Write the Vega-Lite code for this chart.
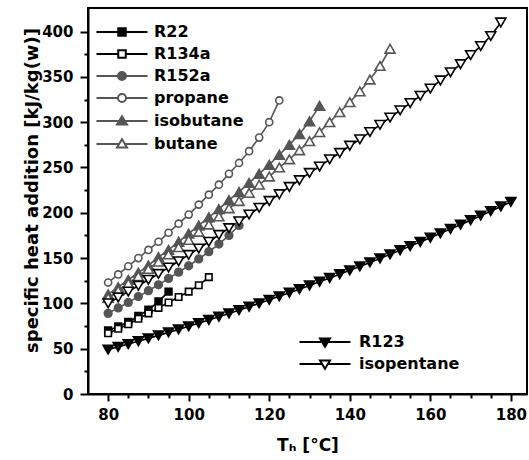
{
  "$schema": "https://vega.github.io/schema/vega-lite/v6.json",
  "width": 439,
  "height": 386,
  "autosize": {"type": "none"},
  "padding": {"left": 88, "top": 8, "right": 2, "bottom": 66},
  "background": "white",
  "config": {
    "view": {"stroke": "black", "strokeWidth": 2},
    "font": "DejaVu Sans",
    "axis": {"grid": false, "domainColor": "black", "domainWidth": 2, "tickColor": "black", "tickWidth": 2,
      "labelFont": "DejaVu Sans", "labelFontWeight": "bold", "labelFontSize": 15, "labelColor": "black",
      "titleFont": "DejaVu Sans", "titleFontWeight": "bold", "titleFontSize": 17, "titleColor": "black"},
    "legend": {"labelFont": "DejaVu Sans", "labelFontWeight": "bold", "labelFontSize": 16, "labelColor": "black"}
  },
  "data": {"values": [
    {"series":"R22","T":80,"q":70},{"series":"R22","T":82.5,"q":74.5},{"series":"R22","T":85,"q":79.5},{"series":"R22","T":87.5,"q":86},{"series":"R22","T":90,"q":93},{"series":"R22","T":92.5,"q":102},{"series":"R22","T":95,"q":113},
    {"series":"R134a","T":80,"q":67},{"series":"R134a","T":82.5,"q":72},{"series":"R134a","T":85,"q":77},{"series":"R134a","T":87.5,"q":83},{"series":"R134a","T":90,"q":89},{"series":"R134a","T":92.5,"q":95},{"series":"R134a","T":95,"q":101},{"series":"R134a","T":97.5,"q":107},{"series":"R134a","T":100,"q":113},{"series":"R134a","T":102.5,"q":120},{"series":"R134a","T":105,"q":129},
    {"series":"R152a","T":80,"q":89},{"series":"R152a","T":82.5,"q":95},{"series":"R152a","T":85,"q":101},{"series":"R152a","T":87.5,"q":107.5},{"series":"R152a","T":90,"q":114},{"series":"R152a","T":92.5,"q":120.5},{"series":"R152a","T":95,"q":127.5},{"series":"R152a","T":97.5,"q":134.5},{"series":"R152a","T":100,"q":141.5},{"series":"R152a","T":102.5,"q":149},{"series":"R152a","T":105,"q":157},{"series":"R152a","T":107.5,"q":165.5},{"series":"R152a","T":110,"q":175},{"series":"R152a","T":112.5,"q":186},
    {"series":"propane","T":80,"q":123},{"series":"propane","T":82.5,"q":132},{"series":"propane","T":85,"q":141},{"series":"propane","T":87.5,"q":150},{"series":"propane","T":90,"q":159},{"series":"propane","T":92.5,"q":168},{"series":"propane","T":95,"q":178},{"series":"propane","T":97.5,"q":188},{"series":"propane","T":100,"q":198},{"series":"propane","T":102.5,"q":209},{"series":"propane","T":105,"q":220},{"series":"propane","T":107.5,"q":231},{"series":"propane","T":110,"q":243},{"series":"propane","T":112.5,"q":255},{"series":"propane","T":115,"q":268},{"series":"propane","T":117.5,"q":283},{"series":"propane","T":120,"q":300},{"series":"propane","T":122.5,"q":324},
    {"series":"isobutane","T":80,"q":110},{"series":"isobutane","T":82.5,"q":118},{"series":"isobutane","T":85,"q":126},{"series":"isobutane","T":87.5,"q":134},{"series":"isobutane","T":90,"q":142},{"series":"isobutane","T":92.5,"q":151},{"series":"isobutane","T":95,"q":159},{"series":"isobutane","T":97.5,"q":168},{"series":"isobutane","T":100,"q":177},{"series":"isobutane","T":102.5,"q":186},{"series":"isobutane","T":105,"q":195},{"series":"isobutane","T":107.5,"q":204},{"series":"isobutane","T":110,"q":214},{"series":"isobutane","T":112.5,"q":223},{"series":"isobutane","T":115,"q":233},{"series":"isobutane","T":117.5,"q":243},{"series":"isobutane","T":120,"q":253},{"series":"isobutane","T":122.5,"q":264},{"series":"isobutane","T":125,"q":275},{"series":"isobutane","T":127.5,"q":287},{"series":"isobutane","T":130,"q":301},{"series":"isobutane","T":132.5,"q":318},
    {"series":"butane","T":80,"q":106},{"series":"butane","T":82.5,"q":114},{"series":"butane","T":85,"q":122},{"series":"butane","T":87.5,"q":130},{"series":"butane","T":90,"q":138},{"series":"butane","T":92.5,"q":146},{"series":"butane","T":95,"q":154},{"series":"butane","T":97.5,"q":162},{"series":"butane","T":100,"q":170},{"series":"butane","T":102.5,"q":179},{"series":"butane","T":105,"q":187},{"series":"butane","T":107.5,"q":196},{"series":"butane","T":110,"q":205},{"series":"butane","T":112.5,"q":213},{"series":"butane","T":115,"q":222},{"series":"butane","T":117.5,"q":231},{"series":"butane","T":120,"q":240},{"series":"butane","T":122.5,"q":250},{"series":"butane","T":125,"q":259},{"series":"butane","T":127.5,"q":269},{"series":"butane","T":130,"q":279},{"series":"butane","T":132.5,"q":289},{"series":"butane","T":135,"q":300},{"series":"butane","T":137.5,"q":311},{"series":"butane","T":140,"q":322},{"series":"butane","T":142.5,"q":334},{"series":"butane","T":145,"q":347},{"series":"butane","T":147.5,"q":362},{"series":"butane","T":150,"q":381},
    {"series":"R123","T":80,"q":49},{"series":"R123","T":82.5,"q":52},{"series":"R123","T":85,"q":55.1},{"series":"R123","T":87.5,"q":58.2},{"series":"R123","T":90,"q":61.4},{"series":"R123","T":92.5,"q":64.7},{"series":"R123","T":95,"q":68},{"series":"R123","T":97.5,"q":71.3},{"series":"R123","T":100,"q":74.7},{"series":"R123","T":102.5,"q":78.2},{"series":"R123","T":105,"q":81.7},{"series":"R123","T":107.5,"q":85.3},{"series":"R123","T":110,"q":88.9},{"series":"R123","T":112.5,"q":92.5},{"series":"R123","T":115,"q":96.3},{"series":"R123","T":117.5,"q":100},{"series":"R123","T":120,"q":103.9},{"series":"R123","T":122.5,"q":107.8},{"series":"R123","T":125,"q":111.7},{"series":"R123","T":127.5,"q":115.7},{"series":"R123","T":130,"q":119.8},{"series":"R123","T":132.5,"q":123.9},{"series":"R123","T":135,"q":128},{"series":"R123","T":137.5,"q":132.2},{"series":"R123","T":140,"q":136.5},{"series":"R123","T":142.5,"q":140.8},{"series":"R123","T":145,"q":145.2},{"series":"R123","T":147.5,"q":149.6},{"series":"R123","T":150,"q":154.1},{"series":"R123","T":152.5,"q":158.6},{"series":"R123","T":155,"q":163.2},{"series":"R123","T":157.5,"q":167.8},{"series":"R123","T":160,"q":172.5},{"series":"R123","T":162.5,"q":177.3},{"series":"R123","T":165,"q":182.1},{"series":"R123","T":167.5,"q":186.9},{"series":"R123","T":170,"q":191.8},{"series":"R123","T":172.5,"q":196.8},{"series":"R123","T":175,"q":201.8},{"series":"R123","T":177.5,"q":206.9},{"series":"R123","T":180,"q":212},
    {"series":"isopentane","T":80,"q":100},{"series":"isopentane","T":82.5,"q":106.5},{"series":"isopentane","T":85,"q":113},{"series":"isopentane","T":87.5,"q":119.5},{"series":"isopentane","T":90,"q":126},{"series":"isopentane","T":92.5,"q":132.5},{"series":"isopentane","T":95,"q":139.5},{"series":"isopentane","T":97.5,"q":146.5},{"series":"isopentane","T":100,"q":153.5},{"series":"isopentane","T":102.5,"q":160.5},{"series":"isopentane","T":105,"q":168},{"series":"isopentane","T":107.5,"q":175.5},{"series":"isopentane","T":110,"q":183},{"series":"isopentane","T":112.5,"q":190.5},{"series":"isopentane","T":115,"q":198},{"series":"isopentane","T":117.5,"q":205.5},{"series":"isopentane","T":120,"q":213},{"series":"isopentane","T":122.5,"q":220.5},{"series":"isopentane","T":125,"q":228.5},{"series":"isopentane","T":127.5,"q":236},{"series":"isopentane","T":130,"q":244},{"series":"isopentane","T":132.5,"q":251},{"series":"isopentane","T":135,"q":259},{"series":"isopentane","T":137.5,"q":266},{"series":"isopentane","T":140,"q":274},{"series":"isopentane","T":142.5,"q":281},{"series":"isopentane","T":145,"q":289},{"series":"isopentane","T":147.5,"q":297},{"series":"isopentane","T":150,"q":305},{"series":"isopentane","T":152.5,"q":313},{"series":"isopentane","T":155,"q":321},{"series":"isopentane","T":157.5,"q":329},{"series":"isopentane","T":160,"q":337},{"series":"isopentane","T":162.5,"q":346},{"series":"isopentane","T":165,"q":355},{"series":"isopentane","T":167.5,"q":364},{"series":"isopentane","T":170,"q":374},{"series":"isopentane","T":172.5,"q":384},{"series":"isopentane","T":175,"q":395},{"series":"isopentane","T":177.5,"q":410}
  ]},
  "encoding": {
    "x": {"field": "T", "type": "quantitative", "scale": {"domain": [75, 184], "nice": false, "zero": false},
      "axis": {"values": [80,85,90,95,100,105,110,115,120,125,130,135,140,145,150,155,160,165,170,175,180],
        "labelExpr": "datum.value % 20 === 0 ? datum.label : ''",
        "tickSize": {"condition": {"test": "datum.value % 20 === 0", "value": 7}, "value": 4},
        "labelPadding": 6, "title": "Tₕ [°C]", "titlePadding": 15}},
    "y": {"field": "q", "type": "quantitative", "scale": {"domain": [0, 426], "nice": false},
      "axis": {"values": [0,25,50,75,100,125,150,175,200,225,250,275,300,325,350,375,400],
        "labelExpr": "datum.value % 50 === 0 ? datum.label : ''",
        "tickSize": {"condition": {"test": "datum.value % 50 === 0", "value": 8}, "value": 4},
        "labelPadding": 7, "title": "specific heat addition [kJ/kg(w)]", "titleX": -47, "titleY": 182, "titleFontSize": 18}}
  },
  "layer": [
    {
      "mark": {"type": "line", "strokeWidth": 1.6},
      "encoding": {
        "stroke": {"field": "series", "type": "nominal", "legend": null,
          "scale": {"domain": ["R22","R134a","R152a","propane","isobutane","butane","R123","isopentane"],
            "range": ["#000000","#000000","#555555","#555555","#555555","#555555","#000000","#000000"]}}
      }
    },
    {
      "transform": [{"filter": {"field": "series", "oneOf": ["R22","R123"]}}],
      "mark": {"type": "point", "filled": true, "fill": "#000000", "stroke": "#000000", "strokeWidth": 1.5, "opacity": 1},
      "encoding": {
        "shape": {"field": "series", "type": "nominal", "legend": null,
          "scale": {"domain": ["R22","R123"], "range": ["square","triangle-down"]}},
        "size": {"field": "series", "type": "nominal", "legend": null,
          "scale": {"domain": ["R22","R123"], "range": [48,105]}}
      }
    },
    {
      "transform": [{"filter": {"field": "series", "oneOf": ["R152a","isobutane"]}}],
      "mark": {"type": "point", "filled": true, "fill": "#555555", "stroke": "#555555", "strokeWidth": 1.5, "opacity": 1},
      "encoding": {
        "shape": {"field": "series", "type": "nominal", "legend": null,
          "scale": {"domain": ["R152a","isobutane"], "range": ["circle","triangle-up"]}},
        "size": {"field": "series", "type": "nominal", "legend": null,
          "scale": {"domain": ["R152a","isobutane"], "range": [60,105]}}
      }
    },
    {
      "transform": [{"filter": {"field": "series", "oneOf": ["propane","butane"]}}],
      "mark": {"type": "point", "filled": true, "fill": "#ffffff", "stroke": "#555555", "strokeWidth": 1.6, "opacity": 1},
      "encoding": {
        "shape": {"field": "series", "type": "nominal", "legend": null,
          "scale": {"domain": ["propane","butane"], "range": ["circle","triangle-up"]}},
        "size": {"field": "series", "type": "nominal", "legend": null,
          "scale": {"domain": ["propane","butane"], "range": [50,100]}}
      }
    },
    {
      "transform": [{"filter": {"field": "series", "oneOf": ["R134a","isopentane"]}}],
      "mark": {"type": "point", "filled": true, "fill": "#ffffff", "stroke": "#000000", "strokeWidth": 1.6, "opacity": 1},
      "encoding": {
        "shape": {"field": "series", "type": "nominal", "legend": null,
          "scale": {"domain": ["R134a","isopentane"], "range": ["square","triangle-down"]}},
        "size": {"field": "series", "type": "nominal", "legend": null,
          "scale": {"domain": ["R134a","isopentane"], "range": [42,100]}}
      }
    },
    {
      "transform": [{"filter": {"field": "series", "oneOf": ["R22","R134a","R152a","propane","isobutane","butane"]}}],
      "mark": {"type": "point", "filled": true, "opacity": 0},
      "encoding": {
        "stroke": {"field": "series", "type": "nominal",
          "scale": {"domain": ["R22","R134a","R152a","propane","isobutane","butane"],
            "range": ["#000000","#000000","#555555","#555555","#555555","#555555"]},
          "legend": {"orient": "none", "legendX": 26, "legendY": 16, "title": null, "symbolSize": 100, "symbolStrokeWidth": 2, "symbolFillColor": "#ffffff", "labelOffset": 24, "rowPadding": 6, "padding": 0}},
        "color": {"field": "series", "type": "nominal",
          "scale": {"domain": ["R22","R134a","R152a","propane","isobutane","butane"],
            "range": ["#000000","#ffffff","#555555","#ffffff","#555555","#ffffff"]},
          "legend": {"orient": "none", "legendX": 26, "legendY": 16, "title": null, "symbolSize": 100, "symbolStrokeWidth": 2, "symbolFillColor": "#ffffff", "labelOffset": 24, "rowPadding": 6, "padding": 0}},
        "shape": {"field": "series", "type": "nominal",
          "scale": {"domain": ["R22","R134a","R152a","propane","isobutane","butane"],
            "range": [
              "M-5.1,0H-0.75M0.75,0H5.1M-0.75,-0.75H0.75V0.75H-0.75Z",
              "M-5.1,0H-0.75M0.75,0H5.1M-0.75,-0.75H0.75V0.75H-0.75Z",
              "M-5.1,0H-0.8M0.8,0H5.1M0.8,0A0.8,0.8,0,1,1,-0.8,0A0.8,0.8,0,1,1,0.8,0Z",
              "M-5.1,0H-0.8M0.8,0H5.1M0.8,0A0.8,0.8,0,1,1,-0.8,0A0.8,0.8,0,1,1,0.8,0Z",
              "M-5.1,0H-0.55M0.55,0H5.1M0,-0.95L1,0.7L-1,0.7Z",
              "M-5.1,0H-0.55M0.55,0H5.1M0,-0.95L1,0.7L-1,0.7Z"]},
          "legend": {"orient": "none", "legendX": 26, "legendY": 16, "title": null, "symbolSize": 100, "symbolStrokeWidth": 2, "symbolFillColor": "#ffffff", "labelOffset": 24, "rowPadding": 6, "padding": 0}}
      }
    },
    {
      "transform": [{"filter": {"field": "series", "oneOf": ["R123","isopentane"]}}],
      "mark": {"type": "point", "filled": true, "opacity": 0},
      "encoding": {
        "stroke": {"field": "series", "type": "nominal",
          "scale": {"domain": ["R123","isopentane"], "range": ["#000000","#000000"]},
          "legend": {"orient": "none", "legendX": 229, "legendY": 326, "title": null, "symbolSize": 100, "symbolStrokeWidth": 2, "symbolFillColor": "#ffffff", "labelOffset": 26, "rowPadding": 5, "padding": 0}},
        "color": {"field": "series", "type": "nominal",
          "scale": {"domain": ["R123","isopentane"], "range": ["#000000","#ffffff"]},
          "legend": {"orient": "none", "legendX": 229, "legendY": 326, "title": null, "symbolSize": 100, "symbolStrokeWidth": 2, "symbolFillColor": "#ffffff", "labelOffset": 26, "rowPadding": 5, "padding": 0}},
        "shape": {"field": "series", "type": "nominal",
          "scale": {"domain": ["R123","isopentane"],
            "range": [
              "M-5.1,0H-0.55M0.55,0H5.1M0,0.95L1,-0.7L-1,-0.7Z",
              "M-5.1,0H-0.55M0.55,0H5.1M0,0.95L1,-0.7L-1,-0.7Z"]},
          "legend": {"orient": "none", "legendX": 229, "legendY": 326, "title": null, "symbolSize": 100, "symbolStrokeWidth": 2, "symbolFillColor": "#ffffff", "labelOffset": 26, "rowPadding": 5, "padding": 0}}
      }
    }
  ],
  "resolve": {"scale": {"stroke": "independent", "color": "independent", "shape": "independent", "size": "independent"}}
}
